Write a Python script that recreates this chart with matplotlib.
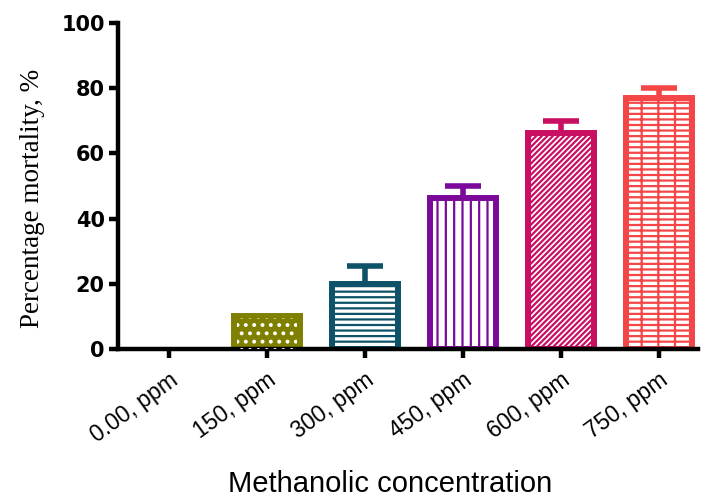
import matplotlib
matplotlib.use("Agg")
import matplotlib.pyplot as plt

# Data
categories = ["0.00, ppm", "150, ppm", "300, ppm", "450, ppm", "600, ppm", "750, ppm"]
mortality = [0, 10.3, 19.9, 46.4, 66.3, 76.8]
sem = [0, 0, 5.6, 3.6, 3.6, 3.1]
colors = ["#000000", "#808000", "#0d5268", "#7b0a9a", "#c80f62", "#f44646"]
hatches = [None, "..", "---", "||", "//////", "---|"]

plt.rcParams["hatch.linewidth"] = 1.6

fig = plt.figure(figsize=(7.01, 4.98), dpi=100)
ax = fig.add_axes([0.1683, 0.2986, 0.827, 0.6558])

BAR_W = 0.673
EDGE_LW = 4.3

x = list(range(len(categories)))
for i, (v, c, h) in enumerate(zip(mortality, colors, hatches)):
    if v <= 0:
        continue
    if i == 1:
        # solid fill with a white dotted pattern on top
        ax.bar(i, v, width=BAR_W, color=c, edgecolor=c, linewidth=EDGE_LW,
               zorder=2)
        ax.bar(i, v * 0.92, width=BAR_W * 0.9, color="none", edgecolor="white",
               hatch=h, linewidth=0, zorder=3)
    else:
        ax.bar(i, v, width=BAR_W, color="white", edgecolor=c, hatch=h,
               linewidth=EDGE_LW, zorder=2)
    if sem[i] > 0:
        ax.errorbar(i, v, yerr=[[0], [sem[i]]], fmt="none", ecolor=c,
                    elinewidth=4, capsize=13, capthick=4, zorder=1)

ax.set_xlim(-0.52, 5.398)
ax.set_ylim(0, 100)
ax.set_yticks([0, 20, 40, 60, 80, 100])
ax.set_xticks(x)
ax.set_xticklabels(categories, rotation=36, ha="right", va="top",
                   rotation_mode="anchor", fontsize=16.5, family="Liberation Sans")
for lbl in ax.get_yticklabels():
    lbl.set_fontsize(15)
    lbl.set_fontweight("bold")
    lbl.set_family("DejaVu Sans")

for s in ["top", "right"]:
    ax.spines[s].set_visible(False)
for s in ["left", "bottom"]:
    ax.spines[s].set_linewidth(3.2)
    ax.spines[s].set_capstyle("projecting")
ax.tick_params(axis="both", width=3.2, length=6.5, direction="out")
ax.tick_params(axis="x", pad=7)
ax.tick_params(axis="y", pad=3)

ax.set_ylabel("Percentage mortality, %", family="Liberation Serif", fontsize=19.5)
ax.yaxis.set_label_coords(-0.126, 0.462)
ax.set_xlabel("Methanolic concentration", family="Liberation Sans", fontsize=21)
ax.xaxis.set_label_coords(0.469, -0.37)

fig.savefig("out.png", dpi=100)
